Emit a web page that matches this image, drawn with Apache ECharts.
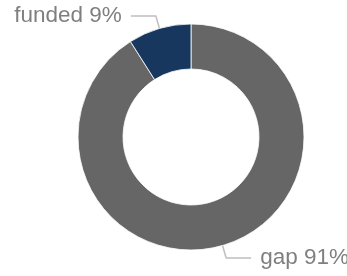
<!DOCTYPE html>
<html>
<head>
<meta charset="utf-8">
<script src="https://cdn.jsdelivr.net/npm/echarts@6/dist/echarts.min.js"></script>
<style>
  html, body { margin: 0; padding: 0; background: #fff; }
  #chart { width: 347px; height: 276px; }
</style>
</head>
<body>
<div id="chart"></div>
<script>
// slice names and shares (percent)
const categories = ['gap', 'funded']
const shares = [91, 9]
const sliceColors = ['#666666', '#17375e']

const chart = echarts.init(document.getElementById('chart'))

const option = {
  animation: false,
  series: [
    {
      type: 'pie',
      center: [191, 137],
      radius: [68, 113],
      startAngle: 90,
      clockwise: true,
      avoidLabelOverlap: false,
      itemStyle: {
        borderColor: '#ffffff',
        borderWidth: 0.8
      },
      label: {
        show: true,
        formatter: '{b} {c}%',
        color: '#7f7f7f',
        fontFamily: 'Liberation Sans, Arial, sans-serif',
        fontSize: 22.5,
        distanceToLabelLine: 9
      },
      labelLine: {
        show: true,
        length: 13,
        length2: 25,
        lineStyle: { color: '#bfbfbf', width: 1.5 }
      },
      data: categories.map((name, i) => ({
        name: name,
        value: shares[i],
        itemStyle: { color: sliceColors[i] }
      }))
    }
  ]
}

chart.setOption(option)
</script>
</body>
</html>
